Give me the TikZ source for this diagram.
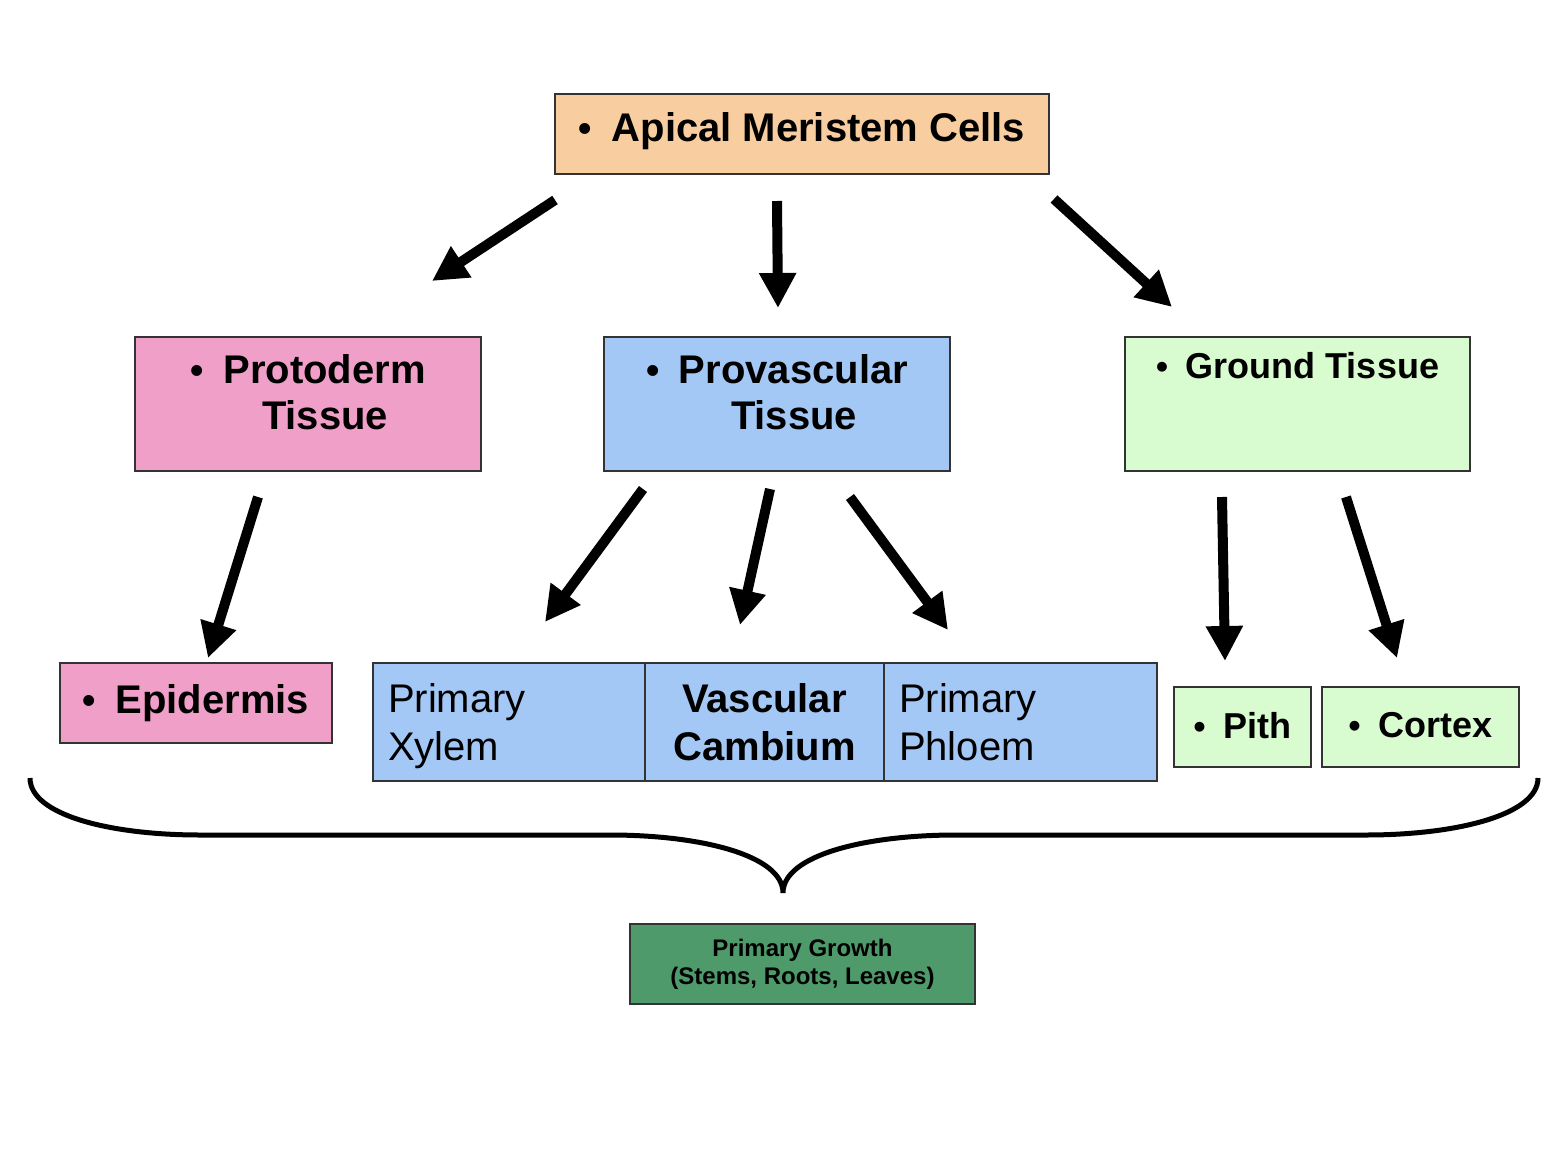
\documentclass[tikz,border=0pt]{standalone}
\usepackage{fontspec}
\setmainfont{Liberation Sans}
\usepackage{graphicx}
\usetikzlibrary{arrows.meta,positioning}
\definecolor{peach}{HTML}{F8CD9F}
\definecolor{pinkbox}{HTML}{F09FC9}
\definecolor{bluebox}{HTML}{A4C8F6}
\definecolor{greenbox}{HTML}{D9FBD0}
\definecolor{darkgreen}{HTML}{4F9A6A}
\definecolor{edge}{HTML}{333333}
\newcommand{\bul}{\scalebox{0.95}{\textbullet}\hspace{0.49em}}
\newcommand{\fsBig}{\fontsize{20}{23}\selectfont}
\newcommand{\fsMid}{\fontsize{18}{21}\selectfont}
\newcommand{\fsSmall}{\fontsize{12}{14}\selectfont}

\begin{document}
\begin{tikzpicture}[x=0.5pt,y=-0.5pt]
	\tikzset{
		box/.style={draw=edge, line width=0.75pt, inner sep=0pt, align=center},
		txt/.style={inner sep=0pt, align=center},
		arr/.style={line width=5pt, -{Triangle[length=17.5pt,width=17.5pt]}},
	}
	\useasboundingbox (0,0) rectangle (1560,1162);
	% top box
	\node[box, fill=peach, minimum width=247pt, minimum height=40pt, text depth=6.5pt, font=\fsBig\bfseries] (apical) at (802,134) {\bul Apical Meristem Cells};
	% middle row
	\node[box, fill=pinkbox, minimum width=173pt, minimum height=67pt] (proto) at (308,404) {};
	\node[txt, font=\fsBig\bfseries, below=9pt of proto.north] (proto-t) {\bul Protoderm\\ \hspace*{17pt}Tissue};
	\node[box, fill=bluebox, minimum width=173pt, minimum height=67pt] (provas) at (777,404) {};
	\node[txt, font=\fsBig\bfseries, below=9pt of provas.north] (provas-t) {\bul Provascular\\ \hspace*{17pt}Tissue};
	\node[box, fill=greenbox, minimum width=172.5pt, minimum height=67pt] (ground) at (1297.5,404) {};
	\node[txt, font=\fsMid\bfseries, below=8pt of ground.north] (ground-t) {\bul Ground Tissue};
	% bottom row
	\node[box, fill=pinkbox, minimum width=136pt, minimum height=40pt, font=\fsBig\bfseries] (epi) at (196,703) {\bul Epidermis};
	\node[box, fill=bluebox, minimum width=136pt, minimum height=59pt, text width=121pt, inner xsep=7.5pt, align=left, font=\fontsize{20}{24}\selectfont] (xylem) at (509,722) {Primary\\X\smash{y}lem};
	\node[box, fill=bluebox, minimum width=119.5pt, minimum height=59pt, text width=104.5pt, inner xsep=7.5pt, font=\fontsize{20}{24}\selectfont\bfseries] (cambium) at (764.5,722) {Vascular\\Cambium};
	\node[box, fill=bluebox, minimum width=136.5pt, minimum height=59pt, text width=121.5pt, inner xsep=7.5pt, align=left, font=\fontsize{20}{24}\selectfont] (phloem) at (1020.5,722) {Primary\\Phloem};
	\node[box, fill=greenbox, minimum width=68.5pt, minimum height=40pt, text depth=2pt, font=\fsMid\bfseries] (pith) at (1242.5,727) {\bul Pith};
	\node[box, fill=greenbox, minimum width=98.5pt, minimum height=40pt, text depth=2pt, font=\fsMid\bfseries] (cortex) at (1420.5,727) {\bul Cortex};
	% result
	\node[box, fill=darkgreen, minimum width=172.5pt, minimum height=40pt, font=\fsSmall\bfseries] (growth) at (802.5,964) {Primary Growth\\(Stems, Roots, Leaves)};
	% arrow ends
	\coordinate (a1s) at (555,200);  \coordinate (a1e) at (432,281);
	\coordinate (a2s) at (777,201);  \coordinate (a2e) at (778,308);
	\coordinate (a3s) at (1054,199); \coordinate (a3e) at (1172,307);
	\coordinate (b1s) at (258,497);  \coordinate (b1e) at (208,658);
	\coordinate (b2s) at (643,489);  \coordinate (b2e) at (545,622);
	\coordinate (b3s) at (770,489);  \coordinate (b3e) at (740,625);
	\coordinate (b4s) at (850,497);  \coordinate (b4e) at (948,630);
	\coordinate (b5s) at (1222,497); \coordinate (b5e) at (1225,661);
	\coordinate (b6s) at (1346,497); \coordinate (b6e) at (1397,658);
	% arrows
	\foreach \a in {a1,a2,a3,b1,b2,b3,b4,b5,b6}
		\draw[arr] (\a s) -- (\a e);
	% brace
	\draw[line width=2.5pt] (30,778) .. controls (30,815) and (110,835) .. (200,835) -- (610,835)
		.. controls (700,835) and (783,855) .. (783,893)
		.. controls (783,855) and (866,835) .. (956,835) -- (1366,835)
		.. controls (1456,835) and (1538,815) .. (1538,778);
\end{tikzpicture}
\end{document}
